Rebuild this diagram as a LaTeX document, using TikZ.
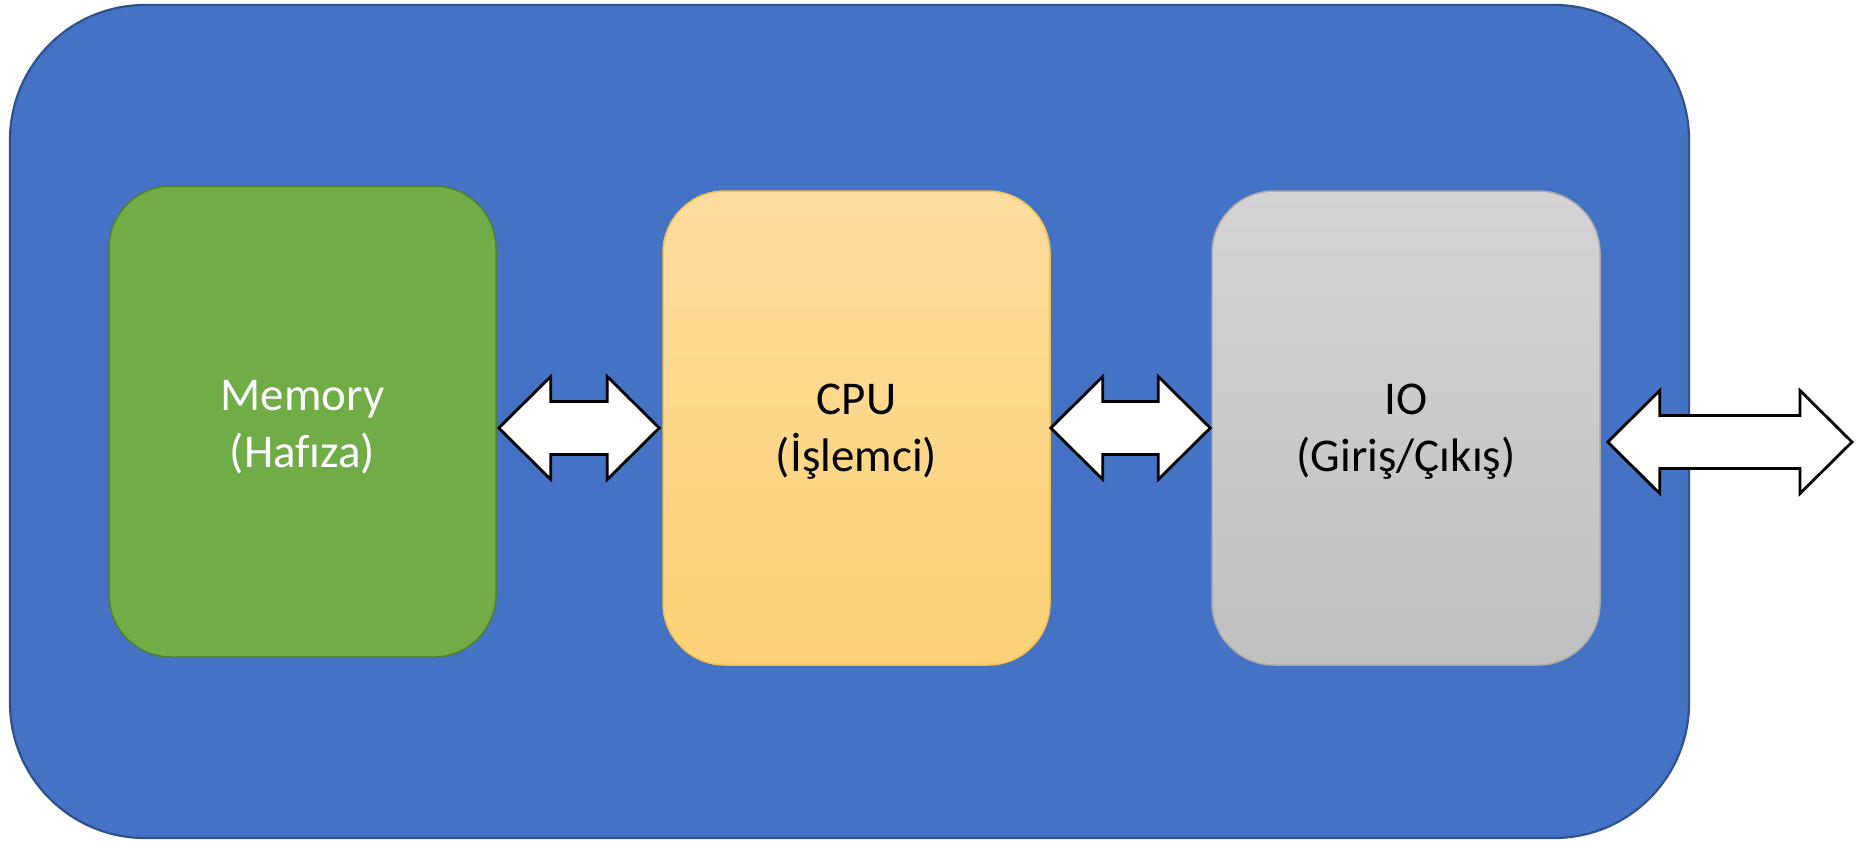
\documentclass[tikz,border=0pt]{standalone}
\usepackage{fontspec}
\setmainfont[Ligatures=NoCommon]{Carlito}
\usetikzlibrary{calc}
\definecolor{outerblue}{HTML}{4472C4}
\definecolor{outerline}{HTML}{2F528F}
\definecolor{memgreen}{HTML}{70AD47}
\definecolor{memline}{HTML}{507E32}
\definecolor{cputop}{HTML}{FDDC9E}
\definecolor{cpubot}{HTML}{FDD277}
\definecolor{cpuline}{HTML}{F2C14E}
\definecolor{iotop}{HTML}{D4D4D4}
\definecolor{iobot}{HTML}{C0C0C0}
\definecolor{ioline}{HTML}{ABABAB}
\tikzset{
  unitbox/.style={rounded corners=62pt, minimum width=387pt, minimum height=474pt,
    line width=1.5pt, inner sep=0pt},
  unittext/.style={align=center, font=\fontsize{47}{57}\selectfont, inner sep=0pt},
  arr/.style={draw=black, fill=white, line width=2.8pt, line join=miter},
}
\newcommand\dblarrow[2]{%
  \draw[arr] (#1) -- ($(#1)+(52,-51.5)$) -- ($(#1)+(52,-26.5)$) -- ($(#2)+(-52,-26.5)$)
    -- ($(#2)+(-52,-51.5)$) -- (#2) -- ($(#2)+(-52,51.5)$) -- ($(#2)+(-52,26.5)$)
    -- ($(#1)+(52,26.5)$) -- ($(#1)+(52,51.5)$) -- cycle;}
\begin{document}
\begin{tikzpicture}[x=1pt,y=-1pt]
\useasboundingbox (0,0) rectangle (1862,841);
\node[draw=outerline, fill=outerblue, line width=2.2pt, rounded corners=135pt,
  minimum width=1679pt, minimum height=833pt, inner sep=0pt] (sys) at (849.5,421.5) {};
\node[unitbox, draw=memline, fill=memgreen, minimum height=471pt] (mem) at (302.5,421.5) {};
\node[unitbox, draw=cpuline, top color=cputop, bottom color=cpubot] (cpu) at (856.5,428) {};
\node[unitbox, draw=ioline, top color=iotop, bottom color=iobot, minimum width=388pt] (io) at (1406,428) {};
\node[unittext, text=white] (memtext) at ($(mem.center)+(0,6)$) {Memory\\(Hafıza)};
\node[unittext, text=black] (cputext) at ($(cpu.center)+(0,4)$) {CPU\\(İşlemci)};
\node[unittext, text=black] (iotext) at ($(io.center)+(0,4)$) {IO\\(Giriş/Çıkış)};
\coordinate (a1l) at ($(mem.east |- cpu.west)+(2,0)$);
\coordinate (a1r) at ($(cpu.west)+(-3,0)$);
\coordinate (a2l) at ($(cpu.east)+(0,0)$);
\coordinate (a2r) at ($(io.west)+(-1,0)$);
\coordinate (a3l) at ($(io.east)+(7,14)$);
\coordinate (a3r) at (1852,442);
\dblarrow{a1l}{a1r}
\dblarrow{a2l}{a2r}
\dblarrow{a3l}{a3r}
\end{tikzpicture}
\end{document}
